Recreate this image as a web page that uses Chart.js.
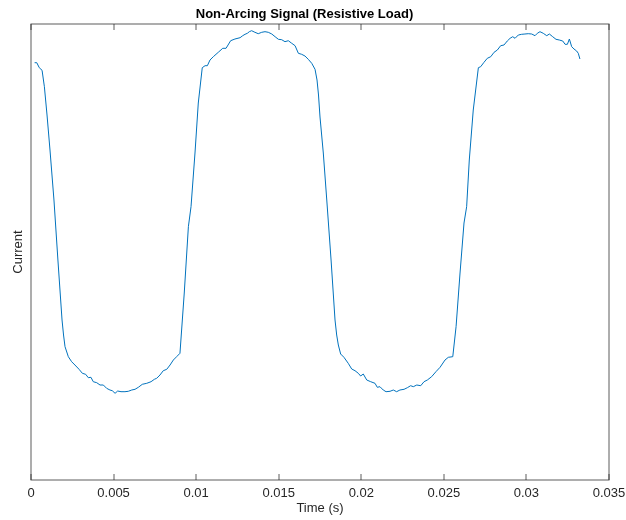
<!DOCTYPE html>
<html>
<head>
<meta charset="utf-8">
<script src="https://cdn.jsdelivr.net/npm/chart.js@4/dist/chart.umd.min.js"></script>
<style>
  html, body { margin: 0; padding: 0; background: #fff; }
  #wrap { width: 626px; height: 520px; }
</style>
</head>
<body>
<div id="wrap"><canvas id="grafico" width="626" height="520"></canvas></div>
<script>
// time axis (s)
const tempo = [
  // queda 1 + vale 1
  0.00022, 0.00035, 0.00050, 0.00067, 0.00081, 0.00097, 0.00115, 0.00139, 0.00163, 0.00188,
  0.00197, 0.00206, 0.00226, 0.00246, 0.00266, 0.00291, 0.00311, 0.00331, 0.00347, 0.00363,
  0.00377, 0.00398, 0.00418, 0.00438, 0.00458, 0.00478, 0.00492, 0.00509, 0.00525, 0.00545,
  0.00569, 0.00589, 0.00610, 0.00630, 0.00650, 0.00674, 0.00701, 0.00727, 0.00747, 0.00761,
  0.00781, 0.00801, 0.00822, 0.00842, 0.00862, 0.00882, 0.00902,
  // subida 1
  0.00928, 0.00953, 0.00969, 0.00993, 0.01013,
  // pico 1 + queda 2 + vale 2
  0.01037, 0.01054, 0.01068, 0.01084, 0.01104, 0.01134, 0.01161, 0.01181, 0.01209, 0.01235,
  0.01266, 0.01282, 0.01296, 0.01310, 0.01322, 0.01336, 0.01356, 0.01376, 0.01397, 0.01417,
  0.01437, 0.01458, 0.01478, 0.01498, 0.01518, 0.01538, 0.01558, 0.01579, 0.01599, 0.01619,
  0.01639, 0.01659, 0.01679, 0.01700, 0.01720, 0.01732, 0.01741, 0.01750, 0.01770, 0.01791,
  0.01817, 0.01841, 0.01851, 0.01861, 0.01875, 0.01895, 0.01921, 0.01942, 0.01962, 0.01982,
  0.01996, 0.02012, 0.02033, 0.02057, 0.02083, 0.02097, 0.02113, 0.02133, 0.02150, 0.02174,
  0.02194, 0.02214, 0.02234, 0.02259, 0.02279, 0.02299, 0.02315, 0.02336, 0.02360, 0.02380,
  0.02400, 0.02426, 0.02452, 0.02477, 0.02507, 0.02527,
  // subida 2
  0.02554, 0.02574, 0.02598, 0.02622, 0.02638, 0.02654, 0.02678,
  // pico 2
  0.02709, 0.02723, 0.02743, 0.02763, 0.02784, 0.02804, 0.02824, 0.02844, 0.02864, 0.02884,
  0.02901, 0.02917, 0.02931, 0.02951, 0.02971, 0.02991, 0.03011, 0.03032, 0.03052, 0.03066,
  0.03082, 0.03102, 0.03123, 0.03139, 0.03159, 0.03179, 0.03199, 0.03220, 0.03234, 0.03248,
  0.03260, 0.03274, 0.03288, 0.03304, 0.03314, 0.03324
];

// current (arbitrary units)
const corrente = [
  // queda 1 + vale 1
  1.893, 1.893, 1.843, 1.817, 1.653, 1.37, 1.02, 0.52, -0.08, -0.68,
  -0.83, -0.947, -1.047, -1.097, -1.13, -1.173, -1.213, -1.223, -1.257, -1.253,
  -1.297, -1.307, -1.33, -1.33, -1.363, -1.38, -1.387, -1.413, -1.39, -1.397,
  -1.397, -1.393, -1.38, -1.373, -1.353, -1.323, -1.313, -1.297, -1.273, -1.263,
  -1.23, -1.187, -1.173, -1.13, -1.08, -1.047, -1.013,
  // subida 1
  -0.41, 0.253, 0.453, 0.99, 1.49,
  // pico 1 + queda 2 + vale 2
  1.843, 1.863, 1.863, 1.92, 1.953, 1.997, 2.037, 2.037, 2.113, 2.13,
  2.143, 2.163, 2.177, 2.187, 2.203, 2.213, 2.197, 2.183, 2.197, 2.203,
  2.197, 2.18, 2.153, 2.127, 2.123, 2.103, 2.113, 2.087, 2.063, 1.987,
  1.977, 1.96, 1.927, 1.887, 1.827, 1.72, 1.57, 1.35, 0.99, 0.52,
  -0.08, -0.68, -0.83, -0.93, -1.02, -1.053, -1.113, -1.17, -1.187, -1.213,
  -1.24, -1.22, -1.28, -1.297, -1.313, -1.353, -1.347, -1.38, -1.397, -1.393,
  -1.38, -1.397, -1.38, -1.373, -1.357, -1.337, -1.347, -1.33, -1.337, -1.297,
  -1.28, -1.247, -1.197, -1.153, -1.08, -1.053,
  // subida 2
  -1.047, -0.747, -0.21, 0.29, 0.453, 0.92, 1.42,
  // pico 2
  1.843, 1.853, 1.897, 1.937, 1.953, 1.997, 2.02, 2.063, 2.07, 2.11,
  2.137, 2.153, 2.137, 2.17, 2.177, 2.18, 2.183, 2.18, 2.163, 2.187,
  2.203, 2.187, 2.163, 2.18, 2.153, 2.127, 2.12, 2.11, 2.077, 2.077,
  2.13, 2.053, 2.03, 2.01, 1.987, 1.93
];

const xMin = 0, xMax = 0.035, xStep = 0.005;
const yMin = -2.28, yMax = 2.28;

const fonte = "'Liberation Sans', Arial, Helvetica, sans-serif";
const corEixo = '#262626';

// caixa do eixo com marcas para dentro (estilo MATLAB)
const caixaEixos = {
    id: 'caixaEixos',
    afterDraw: (chart) => {
        const ctx = chart.ctx;
        const a = chart.chartArea;
        const sx = chart.scales.x;
        ctx.save();
        ctx.strokeStyle = corEixo;
        ctx.lineWidth = 1;
        ctx.globalAlpha = 0.75;
        ctx.strokeRect(a.left, a.top, a.right - a.left, a.bottom - a.top);
        ctx.beginPath();
        sx.ticks.forEach(t => {
            const px = Math.round(sx.getPixelForValue(t.value));
            ctx.moveTo(px, a.bottom);
            ctx.lineTo(px, a.bottom - 6);
            ctx.moveTo(px, a.top);
            ctx.lineTo(px, a.top + 6);
        });
        ctx.stroke();
        ctx.restore();
    }
};

const pontos = tempo.map((t, i) => ({ x: t, y: corrente[i] }));

const grafico = new Chart(document.getElementById('grafico').getContext('2d'), {
    type: 'line',
    data: {
        datasets: [{
            label: 'Current',
            data: pontos,
            borderColor: '#0072BD',
            borderWidth: 1,
            pointRadius: 0,
            tension: 0,
            fill: false
        }]
    },
    options: {
        responsive: false,
        animation: false,
        devicePixelRatio: 1,
        layout: {
            autoPadding: false,
            padding: { left: 0, right: 17, top: 0, bottom: 0 }
        },
        plugins: {
            legend: { display: false },
            tooltip: { enabled: false },
            title: {
                display: true,
                text: 'Non-Arcing Signal (Resistive Load)',
                color: '#000',
                font: { family: fonte, size: 13, weight: 'bold' },
                padding: { top: 7, bottom: 1.4 }
            }
        },
        scales: {
            x: {
                type: 'linear',
                min: xMin,
                max: xMax,
                grid: { display: false, drawTicks: false, tickLength: 0 },
                border: { display: false },
                ticks: {
                    stepSize: xStep,
                    color: corEixo,
                    font: { family: fonte, size: 13 },
                    padding: 6,
                    maxRotation: 0,
                    callback: (v) => String(Number(v.toFixed(3)))
                },
                title: {
                    display: true,
                    text: 'Time (s)',
                    color: corEixo,
                    font: { family: fonte, size: 13 },
                    padding: { top: 0, bottom: 4 }
                },
                afterFit: (scale) => {
                    scale.height = 40;
                    // o rótulo 0.035 pode passar da área, como no original
                    scale.paddingLeft = 0;
                    scale.paddingRight = 0;
                }
            },
            y: {
                min: yMin,
                max: yMax,
                grid: { display: false },
                border: { display: false },
                ticks: { display: false },
                title: {
                    display: true,
                    text: 'Current',
                    color: corEixo,
                    font: { family: fonte, size: 13 },
                    padding: { top: 11, bottom: 0 }
                },
                afterFit: (scale) => { scale.width = 31; }
            }
        }
    },
    plugins: [caixaEixos]
});
</script>
</body>
</html>
